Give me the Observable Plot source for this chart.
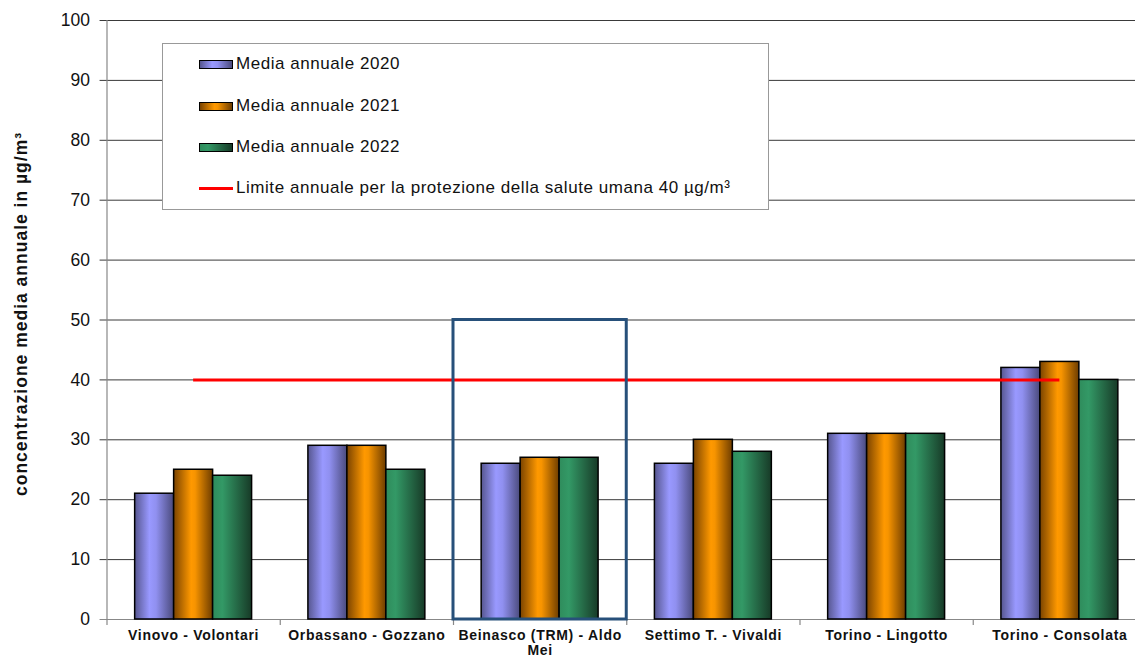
<!DOCTYPE html>
<html>
<head>
<meta charset="utf-8">
<script src="https://cdn.jsdelivr.net/npm/d3@7"></script>
<script src="https://cdn.jsdelivr.net/npm/@observablehq/plot@0.6"></script>
<style>
  html, body { margin: 0; padding: 0; background: #fff; }
  #wrap { position: relative; width: 1135px; height: 659px; overflow: hidden; font-family: "Liberation Sans", Arial, sans-serif; }
  #legend { position: absolute; left: 162px; top: 43px; width: 607px; height: 167px; background: #fff; border: 1px solid #999; box-sizing: border-box; }
  .item { position: absolute; left: 36px; height: 20px; display: flex; align-items: center; font-size: 17px; letter-spacing: 0.55px; color: #111; }
  .sw { width: 34px; height: 9px; border: 1px solid #000; margin-right: 3px; box-sizing: border-box; }
  .ln { width: 34px; height: 3px; background: #ff0000; margin-right: 3px; }
</style>
</head>
<body>
<div id="wrap"><div id="chart"></div><div id="legend"></div></div>
<script>
// ---- data ----
const stations = ["Vinovo - Volontari", "Orbassano - Gozzano", "Beinasco (TRM) - Aldo\nMei", "Settimo T. - Vivaldi", "Torino - Lingotto", "Torino - Consolata"];
const years = ["2020", "2021", "2022"];
const media2020 = [21, 29, 26, 26, 31, 42];
const media2021 = [25, 29, 27, 30, 31, 43];
const media2022 = [24, 25, 27, 28, 31, 40];
const limitValue = 40;
const yTicks = [0, 10, 20, 30, 40, 50, 60, 70, 80, 90, 100];
const highlightIndex = 2;
const highlightTop = 50;
const legendLabels = ["Media annuale 2020", "Media annuale 2021", "Media annuale 2022", "Limite annuale per la protezione della salute umana 40 µg/m³"];
const yLabel = "concentrazione media annuale in µg/m³";

// ---- styles ----
const gradients = {
  "2020": [[0, "#56568f"], [0.38, "#9999ff"], [0.55, "#9090f0"], [1, "#4a4a7c"]],
  "2021": [[0, "#7a4300"], [0.45, "#ff9900"], [0.55, "#f79400"], [1, "#6e3d00"]],
  "2022": [[0, "#2f8c5c"], [0.25, "#339966"], [1, "#173a27"]]
};

const seriesValues = [media2020, media2021, media2022];
const rows = [];
stations.forEach((s, i) => years.forEach((y, k) => rows.push({i, k, year: y, value: seriesValues[k][i]})));

const w = 0.225;
const off = (1 - 3 * w) / 2;
const idx = stations.map((_, i) => i);

const barMarks = years.map(y => Plot.rectY(rows.filter(d => d.year === y), {
  x1: d => d.i + off + d.k * w,
  x2: d => d.i + off + (d.k + 1) * w,
  y1: 0,
  y2: "value",
  fill: `url(#g${y})`,
  stroke: "#000",
  strokeWidth: 1.5
}));

const chart = Plot.plot({
  width: 1135,
  height: 659,
  marginLeft: 106,
  marginRight: 0,
  marginTop: 20,
  marginBottom: 40,
  style: {fontFamily: "'Liberation Sans', Arial, sans-serif", background: "#fff"},
  x: {type: "linear", domain: [0, 6], range: [106.5, 1146], axis: null},
  y: {type: "linear", domain: [0, 100], axis: null},
  marks: [
    Plot.ruleY(yTicks.filter(t => t > 0), {x1: -0.04, x2: 6, stroke: "#3a3a3a", strokeWidth: 1}),
    Plot.ruleY([0], {x1: -0.04, x2: 6, stroke: "#888", strokeWidth: 1.2}),
    Plot.ruleX([0], {y1: 0, y2: 100, stroke: "#888", strokeWidth: 1.2}),
    Plot.ruleX(d3.range(0, 7), {x: d => d, y1: 0, y2: -1, stroke: "#888", strokeWidth: 1.2}),
    Plot.text(yTicks, {x: 0, y: d => d, text: d => String(d), textAnchor: "end", dx: -17, fontSize: 17.5, fill: "#111"}),
    ...barMarks,
    Plot.ruleY([limitValue], {x1: 0.5, x2: 5.5, stroke: "#ff0000", strokeWidth: 3}),
    Plot.rect([highlightIndex], {x1: d => d, x2: d => d + 1, y1: 0, y2: highlightTop, fill: "none", stroke: "#27507a", strokeWidth: 3}),
    Plot.text(idx, {x: d => d + 0.5, y: 0, text: d => stations[d], lineAnchor: "top", dy: 9, fontSize: 14, fontWeight: "bold", fill: "#111", lineHeight: 1.12}),
    Plot.text([yLabel], {frameAnchor: "left", textAnchor: "middle", dx: -85, dy: -6, rotate: -90, fontSize: 17.5, fontWeight: "bold", fill: "#111"})
  ]
});

// letter spacing to match the wider reference lettering
d3.select(chart).selectAll("text").each(function() {
  const t = this.textContent;
  if (t === yLabel) this.setAttribute("letter-spacing", "1px");
  else if (!/^\d+$/.test(t)) this.setAttribute("letter-spacing", "0.7px");
});

// gradients
const ns = "http://www.w3.org/2000/svg";
const defs = document.createElementNS(ns, "defs");
for (const y of years) {
  const g = document.createElementNS(ns, "linearGradient");
  g.setAttribute("id", "g" + y);
  g.setAttribute("x1", "0"); g.setAttribute("x2", "1"); g.setAttribute("y1", "0"); g.setAttribute("y2", "0");
  for (const [o, c] of gradients[y]) {
    const s = document.createElementNS(ns, "stop");
    s.setAttribute("offset", o);
    s.setAttribute("stop-color", c);
    g.appendChild(s);
  }
  defs.appendChild(g);
}
chart.insertBefore(defs, chart.firstChild);
document.getElementById("chart").appendChild(chart);

// legend
const legend = document.getElementById("legend");
const rowTops = [10, 52, 93, 134];
legendLabels.forEach((lab, k) => {
  const it = document.createElement("div");
  it.className = "item";
  it.style.top = rowTops[k] + "px";
  const sw = document.createElement("div");
  if (k < 3) {
    sw.className = "sw";
    sw.style.background = "linear-gradient(to right, " + gradients[years[k]].map(([o, c]) => c + " " + (o * 100) + "%").join(", ") + ")";
  } else {
    sw.className = "ln";
  }
  it.appendChild(sw);
  const t = document.createElement("span");
  t.textContent = lab;
  it.appendChild(t);
  legend.appendChild(it);
});
</script>
</body>
</html>
